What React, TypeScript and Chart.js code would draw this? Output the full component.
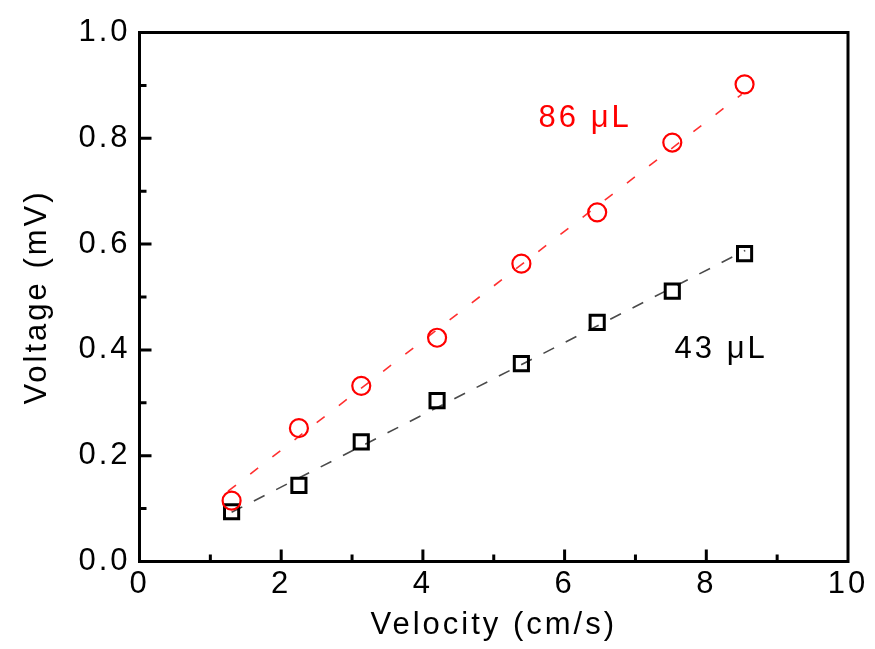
import React, { useEffect, useRef } from 'react';
import { Chart, registerables } from 'chart.js';

Chart.register(...registerables);

// ---- data ----
const velocity = [1.30, 2.25, 3.13, 4.20, 5.39, 6.46, 7.52, 8.54];
const voltage86 = [0.115, 0.252, 0.332, 0.423, 0.563, 0.660, 0.792, 0.902];
const voltage43 = [0.094, 0.144, 0.226, 0.304, 0.374, 0.452, 0.511, 0.582];

// dashed linear fit lines (end points)
const fit86X = [1.25, 8.5];
const fit86Y = [0.133, 0.883];
const fit43X = [1.3, 8.55];
const fit43Y = [0.093, 0.588];

// axis ticks
const xMajorTicks = [2, 4, 6, 8];
const xMinorTicks = [1, 3, 5, 7, 9];
const yMajorTicks = [0.2, 0.4, 0.6, 0.8];
const yMinorTicks = [0.1, 0.3, 0.5, 0.7, 0.9];

// in-plot labels
const noteTexts = ['86 μL', '43 μL'];
const noteX = [6.29, 8.21];
const noteY = [0.838, 0.40];
const noteColors = ['#ff0000', '#000000'];

const FONT_FAMILY = '"Liberation Sans", Arial, Helvetica, sans-serif';
const LETTER_SPACING = '3px';
const FONT_SIZE = 31;

const framePlugin = {
  id: 'frameAndNotes',
  beforeLayout(chart: any) {
    chart.ctx.letterSpacing = LETTER_SPACING;
  },
  beforeDraw(chart: any) {
    chart.ctx.letterSpacing = LETTER_SPACING;
  },
  afterDraw(chart: any) {
    const { ctx, chartArea, scales } = chart;
    const { left, right, top, bottom } = chartArea;
    const xs = scales.x;
    const ys = scales.y;
    ctx.save();
    ctx.strokeStyle = '#000';
    ctx.lineWidth = 3;
    ctx.beginPath();
    for (const v of xMajorTicks) {
      const px = xs.getPixelForValue(v);
      ctx.moveTo(px, bottom);
      ctx.lineTo(px, bottom - 12);
    }
    for (const v of xMinorTicks) {
      const px = xs.getPixelForValue(v);
      ctx.moveTo(px, bottom);
      ctx.lineTo(px, bottom - 7);
    }
    for (const v of yMajorTicks) {
      const py = ys.getPixelForValue(v);
      ctx.moveTo(left, py);
      ctx.lineTo(left + 12, py);
    }
    for (const v of yMinorTicks) {
      const py = ys.getPixelForValue(v);
      ctx.moveTo(left, py);
      ctx.lineTo(left + 7, py);
    }
    ctx.stroke();
    ctx.strokeRect(left, top, right - left, bottom - top);

    ctx.letterSpacing = LETTER_SPACING;
    ctx.font = `${FONT_SIZE}px ${FONT_FAMILY}`;
    ctx.textAlign = 'center';
    ctx.textBaseline = 'middle';
    noteTexts.forEach((t, i) => {
      ctx.fillStyle = noteColors[i];
      ctx.fillText(t, xs.getPixelForValue(noteX[i]), ys.getPixelForValue(noteY[i]));
    });
    ctx.restore();
  },
};

export default function App() {
  const canvasRef = useRef<HTMLCanvasElement | null>(null);

  useEffect(() => {
    document.body.style.margin = '0';
    const canvas = canvasRef.current;
    if (!canvas) return;

    const chart = new Chart(canvas, {
      type: 'scatter',
      data: {
        datasets: [
          {
            label: '86 μL',
            data: velocity.map((v, i) => ({ x: v, y: voltage86[i] })),
            pointStyle: 'circle',
            pointRadius: 9,
            pointHoverRadius: 9,
            borderWidth: 2.2,
            borderColor: '#ff0000',
            backgroundColor: 'rgba(0,0,0,0)',
            showLine: false,
          },
          {
            label: '43 μL',
            data: velocity.map((v, i) => ({ x: v, y: voltage43[i] })),
            pointStyle: 'rect',
            pointRadius: 10,
            pointHoverRadius: 10,
            borderWidth: 3,
            borderColor: '#000000',
            backgroundColor: 'rgba(0,0,0,0)',
            showLine: false,
          },
          {
            label: 'fit 86',
            data: fit86X.map((v, i) => ({ x: v, y: fit86Y[i] })),
            showLine: true,
            borderColor: '#ff3030',
            borderWidth: 1.6,
            borderDash: [10, 18],
            pointRadius: 0,
            fill: false,
          },
          {
            label: 'fit 43',
            data: fit43X.map((v, i) => ({ x: v, y: fit43Y[i] })),
            showLine: true,
            borderColor: '#4a4a4a',
            borderWidth: 1.6,
            borderDash: [12, 13],
            pointRadius: 0,
            fill: false,
          },
        ],
      },
      options: {
        animation: false,
        responsive: false,
        devicePixelRatio: 1,
        layout: { padding: { top: 32.5, right: 27, left: 0, bottom: 0 } },
        plugins: {
          legend: { display: false },
          tooltip: { enabled: false },
        },
        scales: {
          x: {
            type: 'linear',
            min: 0,
            max: 10,
            grid: { display: false, drawTicks: false },
            border: { display: false },
            ticks: {
              stepSize: 2,
              color: '#000',
              padding: 4,
              font: { family: FONT_FAMILY, size: FONT_SIZE },
              maxRotation: 0,
              callback: (v: any) => String(v),
            },
            title: {
              display: true,
              text: 'Velocity (cm/s)',
              color: '#000',
              font: { family: FONT_FAMILY, size: FONT_SIZE },
              padding: { top: 0, bottom: 5 },
            },
            afterFit: (scale: any) => {
              scale.height = 87.5;
            },
          },
          y: {
            type: 'linear',
            min: 0,
            max: 1,
            grid: { display: false, drawTicks: false },
            border: { display: false },
            ticks: {
              stepSize: 0.2,
              color: '#000',
              padding: 9,
              font: { family: FONT_FAMILY, size: FONT_SIZE },
              callback: (v: any) => Number(v).toFixed(1),
            },
            title: {
              display: true,
              text: 'Voltage (mV)',
              color: '#000',
              font: { family: FONT_FAMILY, size: FONT_SIZE },
              padding: { top: 19, bottom: 0 },
            },
            afterFit: (scale: any) => {
              scale.width = 139.5;
            },
          },
        },
      },
      plugins: [framePlugin],
    });

    return () => chart.destroy();
  }, []);

  return (
    <div style={{ width: 875, height: 649, background: '#fff' }}>
      <canvas ref={canvasRef} width={875} height={649} style={{ display: 'block' }} />
    </div>
  );
}
